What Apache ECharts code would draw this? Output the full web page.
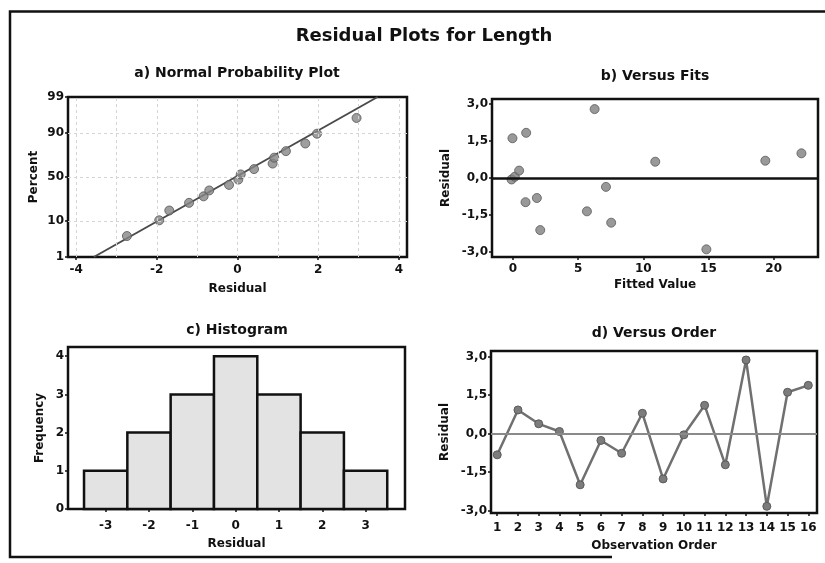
<!DOCTYPE html>
<html><head><meta charset="utf-8">
<script src="https://cdn.jsdelivr.net/npm/echarts@6/dist/echarts.min.js"></script>
<style>html,body{margin:0;padding:0;background:#fff}#c{width:825px;height:563px}</style>
</head><body><div id="c"></div>
<script>
// ---------- data ----------
// a) Normal probability plot
const normResidual = [-2.74,-1.94,-1.69,-1.20,-0.84,-0.70,-0.21,0.02,0.08,0.41,0.87,0.91,1.20,1.68,1.97,2.95];
const normPercent  = [4.3,10.4,16.5,22.6,28.7,34.8,40.9,47.0,53.0,59.1,65.2,71.3,77.4,83.5,89.6,95.7];
const fitLineResidual = [-3.56, 3.47];
const fitLinePercent  = [1, 99];
const percentTicks = [1, 10, 50, 90, 99];
const residualTicksA = [-4, -2, 0, 2, 4];
const residualGridA = [-4, -3, -2, -1, 0, 1, 2, 3, 4];
// b) Versus fits
const fittedValues = [-0.03, 1.02, 6.27, 10.92, 19.36, 22.13, -0.10, 0.15, 0.48, 0.97, 1.84, 2.10, 5.68, 7.14, 7.54, 14.84];
const fitsResidual = [1.61, 1.83, 2.79, 0.66, 0.70, 1.00, -0.06, 0.05, 0.30, -0.98, -0.81, -2.11, -1.35, -0.36, -1.81, -2.89];
const fittedTicks = [0, 5, 10, 15, 20];
const residualTicks = [-3, -1.5, 0, 1.5, 3];
// c) Histogram
const histCenters = [-3, -2, -1, 0, 1, 2, 3];
const histFreq = [1, 2, 3, 4, 3, 2, 1];
const histBinWidth = 1;
const freqTicks = [0, 1, 2, 3, 4];
// d) Versus order
const orderObs = [1,2,3,4,5,6,7,8,9,10,11,12,13,14,15,16];
const orderResidual = [-0.83, 0.92, 0.38, 0.08, -2.00, -0.27, -0.77, 0.79, -1.77, -0.05, 1.10, -1.22, 2.87, -2.84, 1.61, 1.88];

// ---------- normal probability scale transform ----------
function probit(p){
  const a=[-3.969683028665376e+01,2.209460984245205e+02,-2.759285104469687e+02,1.383577518672690e+02,-3.066479806614716e+01,2.506628277459239e+00];
  const b=[-5.447609879822406e+01,1.615858368580409e+02,-1.556989798598866e+02,6.680131188771972e+01,-1.328068155288572e+01];
  const c=[-7.784894002430293e-03,-3.223964580411365e-01,-2.400758277161838e+00,-2.549671669504546e+00,4.374664141464968e+00,2.938163982698783e+00];
  const d=[7.784695709041462e-03,3.224671290700398e-01,2.445134137142996e+00,3.754408661907416e+00];
  const pl=0.02425, ph=1-pl; let q,r;
  if(p<pl){q=Math.sqrt(-2*Math.log(p));return (((((c[0]*q+c[1])*q+c[2])*q+c[3])*q+c[4])*q+c[5])/((((d[0]*q+d[1])*q+d[2])*q+d[3])*q+1);}
  if(p>ph){q=Math.sqrt(-2*Math.log(1-p));return -(((((c[0]*q+c[1])*q+c[2])*q+c[3])*q+c[4])*q+c[5])/((((d[0]*q+d[1])*q+d[2])*q+d[3])*q+1);}
  q=p-0.5;r=q*q;return (((((a[0]*r+a[1])*r+a[2])*r+a[3])*r+a[4])*r+a[5])*q/(((((b[0]*r+b[1])*r+b[2])*r+b[3])*r+b[4])*r+1);
}
const z = p => probit(p / 100);
const pctLabel = v => { for (const p of percentTicks) if (Math.abs(z(p) - v) < 1e-6) return String(p); return ''; };
const comma = v => (Math.abs(v) < 1e-9 ? 0 : v).toFixed(1).replace('.', ',');

const FONT = '"DejaVu Sans", Verdana, sans-serif';
const INK = '#111';
const noLine = { show: false, onZero: false };
const tickStyle = { show: true, length: 3, inside: false, lineStyle: { color: INK, width: 1.5 } };
function lbl(margin){ return { fontFamily: FONT, fontWeight: 'bold', fontSize: 12, color: INK, margin: margin }; }
const nameStyle = { fontFamily: FONT, fontWeight: 'bold', fontSize: 12, color: INK };
const gridBox = { show: true, borderColor: INK, borderWidth: 2.5, backgroundColor: '#fff', containLabel: false };

const option = {
  animation: false,
  backgroundColor: '#fff',
  graphic: [
    { type: 'polyline', shape: { points: [[612, 557], [10, 557], [10, 11.5], [830, 11.5]] }, style: { stroke: INK, lineWidth: 2.5, fill: null } },
    { type: 'text', x: 424, y: 36, style: { text: 'Residual Plots for Length', font: 'bold 18px ' + FONT, fill: INK, align: 'center', verticalAlign: 'middle' } },
    { type: 'text', x: 237, y: 73, style: { text: 'a) Normal Probability Plot', font: 'bold 14px ' + FONT, fill: INK, align: 'center', verticalAlign: 'middle' } },
    { type: 'text', x: 655, y: 76, style: { text: 'b) Versus Fits', font: 'bold 14px ' + FONT, fill: INK, align: 'center', verticalAlign: 'middle' } },
    { type: 'text', x: 237, y: 330, style: { text: 'c) Histogram', font: 'bold 14px ' + FONT, fill: INK, align: 'center', verticalAlign: 'middle' } },
    { type: 'text', x: 654, y: 333, style: { text: 'd) Versus Order', font: 'bold 14px ' + FONT, fill: INK, align: 'center', verticalAlign: 'middle' } }
  ],
  grid: [
    Object.assign({ left: 68, top: 97, width: 339, height: 160 }, gridBox),
    Object.assign({ left: 492, top: 99, width: 326, height: 158 }, gridBox),
    Object.assign({ left: 68, top: 347, width: 337, height: 162 }, gridBox),
    Object.assign({ left: 491, top: 351, width: 326, height: 162 }, gridBox)
  ],
  xAxis: [
    { gridIndex: 0, type: 'value', min: -4.2, max: 4.2, name: 'Residual', nameLocation: 'middle', nameGap: 26, nameTextStyle: nameStyle,
      axisLine: noLine, axisTick: Object.assign({ customValues: residualTicksA }, tickStyle),
      axisLabel: Object.assign({ customValues: residualTicksA }, lbl(7)), splitLine: { show: false } },
    { gridIndex: 1, type: 'value', min: -1.6, max: 23.4, name: 'Fitted Value', nameLocation: 'middle', nameGap: 22, nameTextStyle: nameStyle,
      axisLine: noLine, axisTick: Object.assign({ customValues: fittedTicks }, tickStyle),
      axisLabel: Object.assign({ customValues: fittedTicks }, lbl(6)), splitLine: { show: false } },
    { gridIndex: 2, type: 'value', min: -3.87, max: 3.91, name: 'Residual', nameLocation: 'middle', nameGap: 29, nameTextStyle: nameStyle,
      axisLine: noLine, axisTick: Object.assign({ customValues: histCenters }, tickStyle),
      axisLabel: Object.assign({ customValues: histCenters }, lbl(11)), splitLine: { show: false } },
    { gridIndex: 3, type: 'value', min: 0.7, max: 16.42, name: 'Observation Order', nameLocation: 'middle', nameGap: 27, nameTextStyle: nameStyle,
      axisLine: noLine, axisTick: Object.assign({ customValues: orderObs }, tickStyle),
      axisLabel: Object.assign({ customValues: orderObs }, lbl(9)), splitLine: { show: false } }
  ],
  yAxis: [
    { gridIndex: 0, type: 'value', min: z(1), max: z(99), name: 'Percent', nameLocation: 'middle', nameGap: 28, nameTextStyle: nameStyle,
      axisLine: noLine, axisTick: Object.assign({ customValues: percentTicks.map(z) }, tickStyle),
      axisLabel: Object.assign({ customValues: percentTicks.map(z), formatter: pctLabel }, lbl(4)), splitLine: { show: false } },
    { gridIndex: 1, type: 'value', min: -3.2, max: 3.2, name: 'Residual', nameLocation: 'middle', nameGap: 40, nameTextStyle: nameStyle,
      axisLine: noLine, axisTick: Object.assign({ customValues: residualTicks }, tickStyle),
      axisLabel: Object.assign({ customValues: residualTicks, formatter: comma }, lbl(4)), splitLine: { show: false } },
    { gridIndex: 2, type: 'value', min: 0, max: 4.24, name: 'Frequency', nameLocation: 'middle', nameGap: 22, nameTextStyle: nameStyle,
      axisLine: noLine, axisTick: Object.assign({ customValues: freqTicks }, tickStyle),
      axisLabel: Object.assign({ customValues: freqTicks }, lbl(4)), splitLine: { show: false } },
    { gridIndex: 3, type: 'value', min: -3.1, max: 3.22, name: 'Residual', nameLocation: 'middle', nameGap: 40, nameTextStyle: nameStyle,
      axisLine: noLine, axisTick: Object.assign({ customValues: residualTicks }, tickStyle),
      axisLabel: Object.assign({ customValues: residualTicks, formatter: comma }, lbl(4)), splitLine: { show: false } }
  ],
  series: [
    { type: 'line', xAxisIndex: 0, yAxisIndex: 0, z: 2, symbol: 'none', silent: true,
      data: fitLineResidual.map((r, i) => [r, z(fitLinePercent[i])]),
      lineStyle: { color: '#4a4a4a', width: 2 },
      markLine: { silent: true, symbol: 'none', label: { show: false }, animation: false,
        lineStyle: { color: '#d4d4d4', width: 1, type: [3, 3] },
        data: residualGridA.map(v => ({ xAxis: v })).concat(percentTicks.slice(1, -1).map(p => ({ yAxis: z(p) }))) } },
    { type: 'scatter', xAxisIndex: 0, yAxisIndex: 0, z: 3, symbol: 'circle', symbolSize: 9,
      data: normResidual.map((r, i) => [r, z(normPercent[i])]),
      itemStyle: { color: '#868686', borderColor: '#555', borderWidth: 1 } },
    { type: 'scatter', xAxisIndex: 1, yAxisIndex: 1, z: 3, symbol: 'circle', symbolSize: 9,
      data: fittedValues.map((f, i) => [f, fitsResidual[i]]),
      itemStyle: { color: '#808080', borderColor: '#5a5a5a', borderWidth: 1 },
      markLine: { silent: true, symbol: 'none', label: { show: false }, animation: false,
        lineStyle: { color: INK, width: 2.5, type: 'solid' }, data: [{ yAxis: 0 }] } },
    { type: 'custom', xAxisIndex: 2, yAxisIndex: 2, z: 2,
      data: histCenters.map((c, i) => [c, histFreq[i]]),
      encode: { x: 0, y: 1 },
      renderItem: function (params, api) {
        const c = api.value(0), f = api.value(1);
        const p0 = api.coord([c - histBinWidth / 2, f]);
        const p1 = api.coord([c + histBinWidth / 2, 0]);
        return { type: 'rect', shape: { x: p0[0], y: p0[1], width: p1[0] - p0[0], height: p1[1] - p0[1] },
          style: { fill: '#e3e3e3', stroke: INK, lineWidth: 2.5 } };
      } },
    { type: 'line', xAxisIndex: 3, yAxisIndex: 3, z: 3, symbol: 'circle', symbolSize: 8,
      data: orderObs.map((o, i) => [o, orderResidual[i]]),
      lineStyle: { color: '#707070', width: 2.5 },
      itemStyle: { color: '#7c7c7c', borderColor: '#5a5a5a', borderWidth: 1 },
      markLine: { silent: true, symbol: 'none', label: { show: false }, animation: false,
        lineStyle: { color: '#8a8a8a', width: 2, type: 'solid' }, data: [{ yAxis: 0 }] } }
  ]
};
const chart = echarts.init(document.getElementById('c'), null, { renderer: 'canvas' });
chart.setOption(option);
</script></body></html>
